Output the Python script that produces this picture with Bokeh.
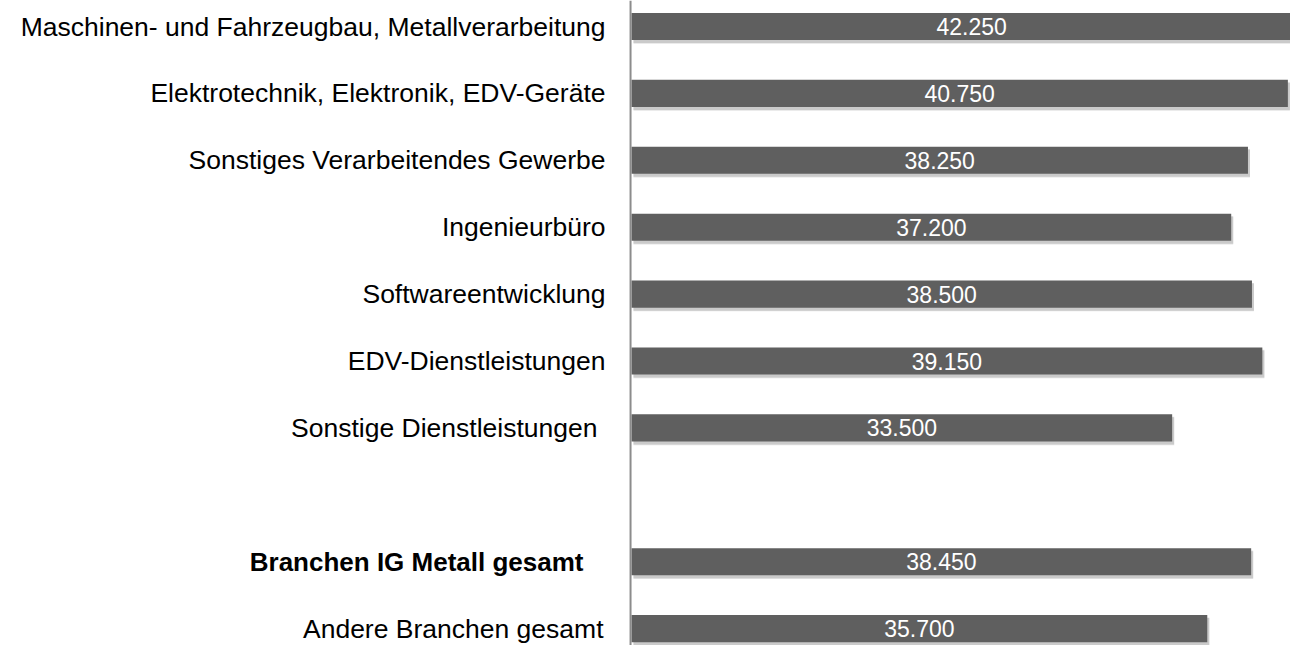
from bokeh.plotting import figure
from bokeh.models import ColumnDataSource, Range1d, Span, CDSView, IndexFilter
from bokeh.core.properties import value
from bokeh.embed import file_html
from bokeh.resources import INLINE

# ---- data ----
categories = [
    "Maschinen- und Fahrzeugbau, Metallverarbeitung",
    "Elektrotechnik, Elektronik, EDV-Geräte",
    "Sonstiges Verarbeitendes Gewerbe",
    "Ingenieurbüro",
    "Softwareentwicklung",
    "EDV-Dienstleistungen",
    "Sonstige Dienstleistungen",
    "Branchen IG Metall gesamt",
    "Andere Branchen gesamt",
]
values = [42250, 40750, 38250, 37200, 38500, 39150, 33500, 38450, 35700]
value_labels = ["42.250", "40.750", "38.250", "37.200", "38.500",
                "39.150", "33.500", "38.450", "35.700"]
bold_flags = [False, False, False, False, False, False, False, True, False]

# ---- layout helpers (positions / styles) ----
slots = [i if i < 7 else i + 1 for i in range(len(categories))]  # empty slot before totals
label_shift = [0, 0, 0, 0, 0, 0, -8, -22, -2]
W, H = 1290, 645
px_per_unit = 0.01596
origin_px = 637
bar_left = -376
label_x = -2005
bar_h = 0.405
slot_px = 66.9
top_px = 26

src = ColumnDataSource(dict(
    y=slots,
    v=values,
    left=[bar_left] * len(values),
    mid=[(bar_left + v) / 2 for v in values],
    vl=value_labels,
    cat=categories,
    lx=[label_x] * len(values),
    xo=label_shift,
    sy=[s + 0.045 for s in slots],
    sv=[v + 125 for v in values],
    sl=[bar_left + 125] * len(values),
))

p = figure(width=W, height=H, output_backend="svg", toolbar_location=None,
           x_range=Range1d(-origin_px / px_per_unit, (W - origin_px) / px_per_unit),
           y_range=Range1d(H / slot_px - top_px / slot_px, -top_px / slot_px),
           min_border=0, min_border_left=0, min_border_right=0,
           min_border_top=0, min_border_bottom=0)
p.axis.visible = False
p.grid.visible = False
p.outline_line_color = None
p.background_fill_color = "white"
p.border_fill_color = "white"

# soft shadow
p.hbar(y="sy", left="sl", right="sv", height=bar_h + 0.02, source=src,
       fill_color="#d0d0d0", fill_alpha=0.55, line_color=None)
p.hbar(y="sy", left="sl", right="sv", height=bar_h, source=src,
       fill_color="#b8b8b8", fill_alpha=0.6, line_color=None)
# bars
p.hbar(y="y", left="left", right="v", height=bar_h, source=src,
       fill_color="#5f5f5f", line_color=None)

# axis line
p.add_layout(Span(location=bar_left - 60, dimension="height",
                  line_color="#8c8c8c", line_width=2))

# value labels
p.text(x="mid", y="y", text="vl", source=src, text_color="white",
       text_font=value("Liberation Sans"), text_font_size="23px",
       text_align="center", text_baseline="middle")

# category labels
normal = [i for i, b in enumerate(bold_flags) if not b]
bold = [i for i, b in enumerate(bold_flags) if b]
p.text(x="lx", y="y", text="cat", x_offset="xo", source=src,
       view=CDSView(filter=IndexFilter(normal)),
       text_color="#000000", text_font=value("Liberation Sans"),
       text_font_size="26.5px", text_align="right", text_baseline="middle")
p.text(x="lx", y="y", text="cat", x_offset="xo", source=src,
       view=CDSView(filter=IndexFilter(bold)),
       text_color="#000000", text_font=value("Liberation Sans"),
       text_font_size="26px", text_font_style="bold",
       text_align="right", text_baseline="middle")

open("out.html", "w").write(file_html(p, INLINE))
